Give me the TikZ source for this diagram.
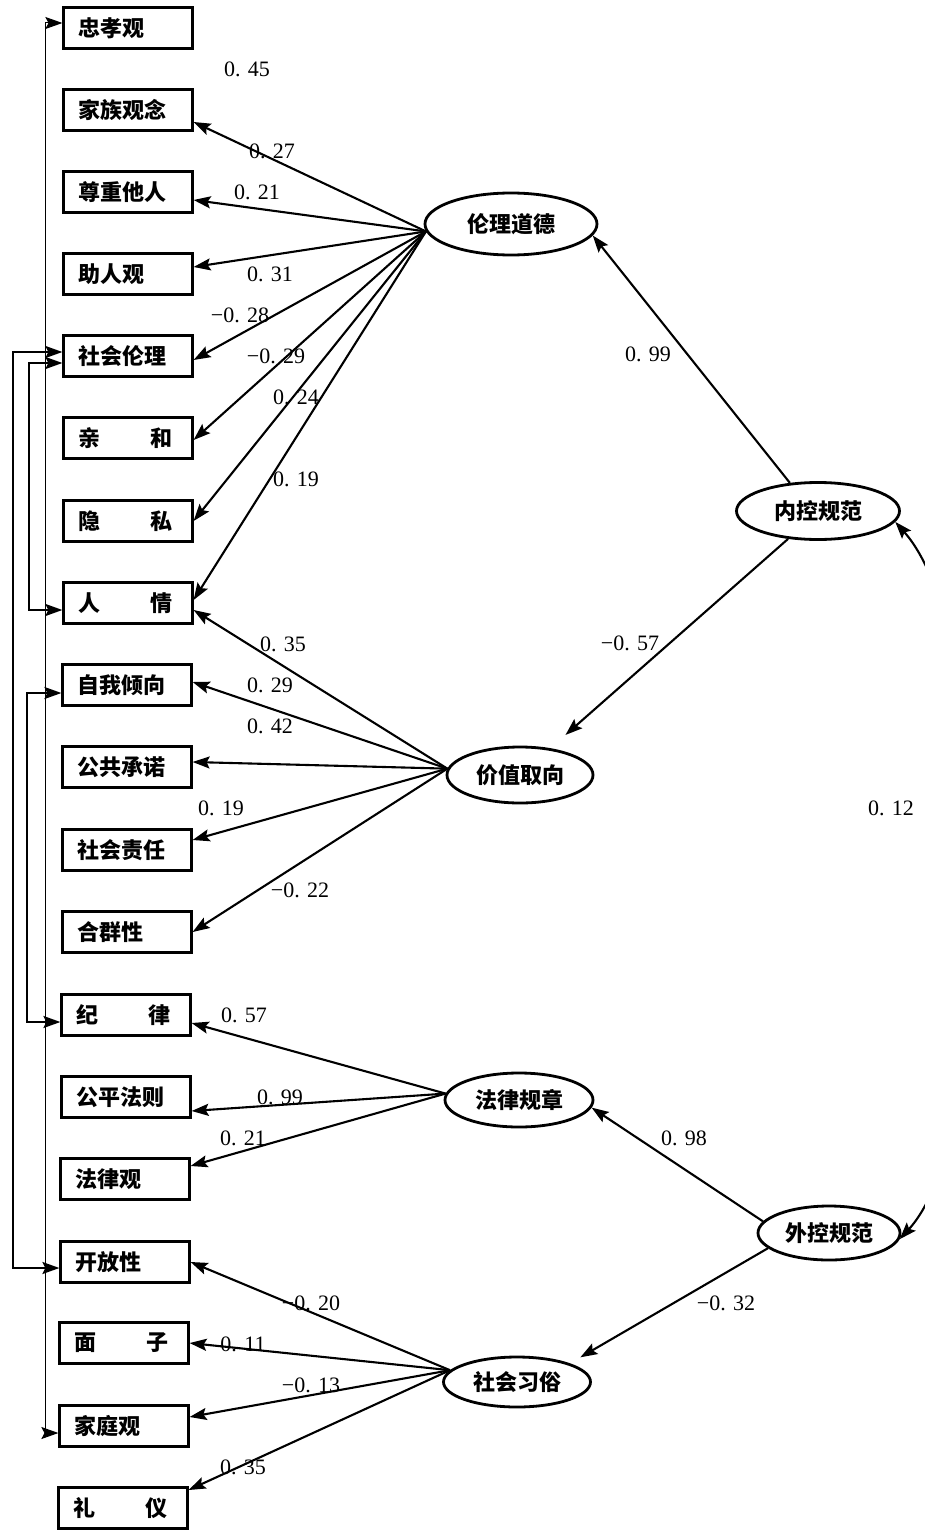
\documentclass[tikz,border=0pt]{standalone}
\usepackage{fontspec}
\newfontfamily\cjk{Noto Sans CJK SC}
\newfontfamily\numf{Liberation Serif}
\usetikzlibrary{arrows.meta,shapes.geometric}
\tikzset{
  box/.style={draw, line width=2.2pt, text width=99pt, inner xsep=15pt, minimum height=41pt, align=left, font=\cjk\bfseries\fontsize{22pt}{22pt}\selectfont},
  lat/.style={draw, ellipse, line width=2.8pt, inner sep=0pt, font=\cjk\bfseries\fontsize{22pt}{22pt}\selectfont},
  tipA/.tip={Stealth[length=17pt,width=12pt,inset=3pt]},
  conn/.style={line width=2.1pt, -tipA},
  dconn/.style={line width=2.1pt, tipA-tipA},
  thinconn/.style={line width=1pt, tipA-tipA},
  coef/.style={font=\numf\fontsize{22pt}{22pt}\selectfont, inner sep=0pt}
}
\begin{document}
\begin{tikzpicture}[x=1pt,y=-1pt]
\useasboundingbox (0,0) rectangle (925,1530);
% observed variables
\node[box] (zx) at (128,28)   {忠孝观};
\node[box] (jz) at (128,110)  {家族观念};
\node[box] (zz) at (128,192)  {尊重他人};
\node[box] (zr) at (128,274)  {助人观};
\node[box] (sl) at (128,356)  {社会伦理};
\node[box] (qh) at (128,438)  {亲\hspace{50pt}和};
\node[box] (ys) at (128,521)  {隐\hspace{50pt}私};
\node[box] (rq) at (128,603)  {人\hspace{50pt}情};
\node[box] (zw) at (127,685)  {自我倾向};
\node[box] (gc) at (127,767)  {公共承诺};
\node[box] (sz) at (127,850)  {社会责任};
\node[box] (hq) at (127,932)  {合群性};
\node[box] (jl) at (126,1015) {纪\hspace{50pt}律};
\node[box] (gp) at (126,1097) {公平法则};
\node[box] (fl) at (125,1179) {法律观};
\node[box] (kf) at (125,1262) {开放性};
\node[box] (mz) at (124,1343) {面\hspace{50pt}子};
\node[box] (jt) at (124,1426) {家庭观};
\node[box] (ly) at (123,1508) {礼\hspace{50pt}仪};
% latent variables
\node[lat, minimum width=172pt, minimum height=62pt] (ll) at (511,224)  {伦理道德};
\node[lat, minimum width=146pt, minimum height=56pt] (jq) at (520,775)  {价值取向};
\node[lat, minimum width=148pt, minimum height=54pt] (fg) at (519,1100) {法律规章};
\node[lat, minimum width=147pt, minimum height=50pt] (sx) at (517,1382) {社会习俗};
\node[lat, minimum width=163pt, minimum height=57pt] (nk) at (818,511)  {内控规范};
\node[lat, minimum width=142pt, minimum height=54pt] (wk) at (829,1233) {外控规范};
% loadings of 伦理道德
\draw[conn] (ll.185) -- ([yshift=-12pt]jz.east);
\draw[conn] (ll.185) -- ([yshift=-8pt]zz.east);
\draw[conn] (ll.185) -- ([yshift=7pt]zr.east);
\draw[conn] (ll.185) -- ([yshift=-4pt]sl.east);
\draw[conn] (ll.185) -- ([yshift=-2pt]qh.east);
\draw[conn] (ll.185) -- (ys.east);
\draw[conn] (ll.185) -- ([yshift=3pt]rq.east);
% loadings of 价值取向
\draw[conn] (jq.175) -- ([yshift=-7pt]rq.east);
\draw[conn] (jq.175) -- ([yshift=3pt]zw.east);
\draw[conn] (jq.175) -- ([yshift=5pt]gc.east);
\draw[conn] (jq.175) -- ([yshift=10pt]sz.east);
\draw[conn] (jq.175) -- (hq.east);
% loadings of 法律规章
\draw[conn] (fg.175) -- ([yshift=-8pt]jl.east);
\draw[conn] (fg.175) -- ([yshift=-14pt]gp.east);
\draw[conn] (fg.175) -- ([yshift=13pt]fl.east);
% loadings of 社会习俗
\draw[conn] (sx.170) -- (kf.east);
\draw[conn] (sx.170) -- (mz.east);
\draw[conn] (sx.170) -- ([yshift=9pt]jt.east);
\draw[conn] (sx.170) -- ([yshift=18pt]ly.east);
% second order
\draw[conn] (nk.135) -- (ll.-8);
\draw[conn, shorten >=20pt] (nk.223) -- (jq);
\draw[conn] (wk.170) -- (fg.-6);
\draw[conn, shorten >=12pt] (wk.194) -- (sx.north east);
\draw[dconn] (nk.-8) .. controls (1000,640) and (1000,1130) .. (wk.-5);
% error correlations on the left
\draw[thinconn] ([yshift=5pt]zx.west) -- ++(-17,0) |- ([yshift=-7pt]jt.west);
\draw[dconn] ([yshift=4pt]sl.west) -- ++(-49,0) |- ([yshift=-6pt]kf.west);
\draw[dconn] ([yshift=-7pt]sl.west) -- ++(-33,0) |- ([yshift=-7pt]rq.west);
\draw[dconn] ([yshift=-8pt]zw.west) -- ++(-34,0) |- ([yshift=-7pt]jl.west);
% coefficients
\node[coef] (c1) at (247,69) {0. 45};
\node[coef] (c2) at (272,151) {0. 27};
\node[coef] (c3) at (257,192) {0. 21};
\node[coef] (c4) at (270,274) {0. 31};
\node[coef] (c5) at (240,315) {−0. 28};
\node[coef] (c6) at (276,356) {−0. 29};
\node[coef] (c7) at (296,397) {0. 24};
\node[coef] (c8) at (296,479) {0. 19};
\node[coef] (c9) at (648,354) {0. 99};
\node[coef] (c10) at (283,644) {0. 35};
\node[coef] (c11) at (270,685) {0. 29};
\node[coef] (c12) at (270,726) {0. 42};
\node[coef] (c13) at (221,808) {0. 19};
\node[coef] (c14) at (300,890) {−0. 22};
\node[coef] (c15) at (630,643) {−0. 57};
\node[coef] (c16) at (244,1015) {0. 57};
\node[coef] (c17) at (280,1097) {0. 99};
\node[coef] (c18) at (243,1138) {0. 21};
\node[coef] (c19) at (684,1138) {0. 98};
\node[coef] (c20) at (311,1303) {−0. 20};
\node[coef] (c21) at (243,1344) {0. 11};
\node[coef] (c22) at (311,1385) {−0. 13};
\node[coef] (c23) at (243,1467) {0. 35};
\node[coef] (c24) at (726,1303) {−0. 32};
\node[coef] (c25) at (891,808) {0. 12};
\end{tikzpicture}
\end{document}
